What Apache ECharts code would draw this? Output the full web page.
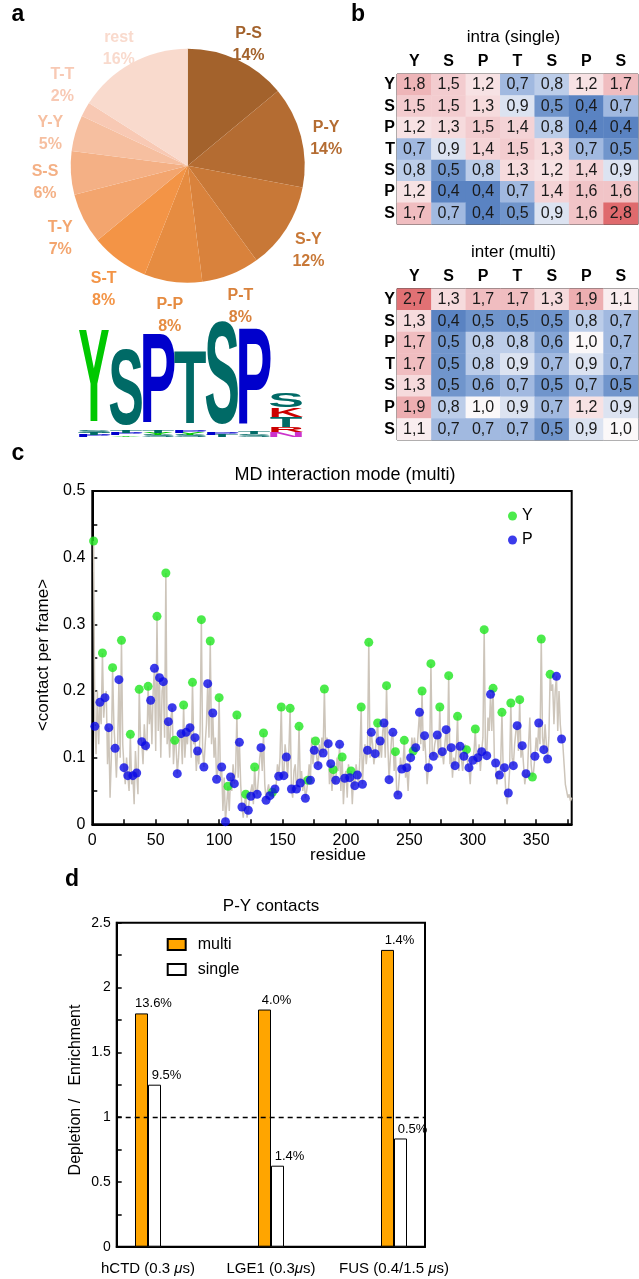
<!DOCTYPE html>
<html><head><meta charset="utf-8">
<script src="https://cdn.jsdelivr.net/npm/echarts@6/dist/echarts.min.js"></script>
<style>html,body{margin:0;padding:0;background:#fff}#c{width:639px;height:1279px}</style>
</head><body><div id="c"></div>
<script>
// ---------------- data ----------------
const pieNames  = ['P-S','P-Y','S-Y','P-T','P-P','S-T','T-Y','S-S','Y-Y','T-T','rest'];
const pieValues = [14,14,12,8,8,8,7,6,5,2,16];
const pieColors = ['#a3622c','#b46c32','#c87837','#d9823c','#e68c41','#f39446','#f3a56e','#f4b085','#f6bfa0','#f8c9b4','#f9dacd'];

// sequence logo: columns, letters from bottom to top with heights in bits
const logoColumns = [
  [['P',0.10],['T',0.08],['S',0.12],['Y',4.01]],
  [['Y',0.06],['P',0.10],['T',0.10],['S',3.29]],
  [['S',0.10],['Y',0.08],['T',0.12],['P',3.91]],
  [['S',0.10],['Y',0.08],['P',0.12],['T',3.20]],
  [['T',0.10],['P',0.10],['S',4.42]],
  [['S',0.12],['T',0.10],['P',4.22]],
  [['N',0.20],['R',0.20],['T',0.45],['K',0.40],['S',0.62]]
];
const logoColorMap = {Y:'#00c800',S:'#006a66',T:'#006a66',P:'#0000cc',K:'#cc0000',R:'#cc0000',N:'#cc33cc'};

const hmLabels = ['Y','S','P','T','S','P','S'];
const intraValues = [
  [1.8,1.5,1.2,0.7,0.8,1.2,1.7],
  [1.5,1.5,1.3,0.9,0.5,0.4,0.7],
  [1.2,1.3,1.5,1.4,0.8,0.4,0.4],
  [0.7,0.9,1.4,1.5,1.3,0.7,0.5],
  [0.8,0.5,0.8,1.3,1.2,1.4,0.9],
  [1.2,0.4,0.4,0.7,1.4,1.6,1.6],
  [1.7,0.7,0.4,0.5,0.9,1.6,2.8]
];
const interValues = [
  [2.7,1.3,1.7,1.7,1.3,1.9,1.1],
  [1.3,0.4,0.5,0.5,0.5,0.8,0.7],
  [1.7,0.5,0.8,0.8,0.6,1.0,0.7],
  [1.7,0.5,0.8,0.9,0.7,0.9,0.7],
  [1.3,0.5,0.6,0.7,0.5,0.7,0.5],
  [1.9,0.8,1.0,0.9,0.7,1.2,0.9],
  [1.1,0.7,0.7,0.7,0.5,0.9,1.0]
];

// contact per frame for residues 1..378
const residueValues = [
0.425,0.147,0.105,0.2,0.12,0.183,0.15,0.257,0.16,0.19,
0.2,0.09,0.145,0.04,0.1,0.235,0.15,0.114,0.07,0.12,
0.217,0.1,0.276,0.12,0.085,0.06,0.1,0.073,0.05,0.135,
0.06,0.073,0.03,0.11,0.077,0.045,0.2025,0.13,0.124,0.09,
0.15,0.118,0.11,0.207,0.15,0.186,0.12,0.2,0.234,0.11,
0.312,0.14,0.22,0.1,0.2,0.214,0.13,0.377,0.12,0.154,
0.1,0.16,0.175,0.09,0.126,0.12,0.076,0.1,0.14,0.136,
0.09,0.179,0.1,0.138,0.12,0.15,0.145,0.1,0.213,0.12,
0.13,0.08,0.11,0.09,0.14,0.307,0.11,0.086,0.12,0.15,
0.211,0.13,0.275,0.12,0.167,0.1,0.13,0.0675,0.08,0.19,
0.07,0.086,0.02,0.07,0.004,0.03,0.057,0.02,0.071,0.05,
0.09,0.061,0.08,0.164,0.07,0.123,0.06,0.026,0.01,0.03,
0.045,0.01,0.021,0.04,0.042,0.06,0.03,0.086,0.05,0.045,
0.07,0.1,0.115,0.08,0.137,0.06,0.036,0.05,0.06,0.043,
0.05,0.048,0.04,0.053,0.06,0.09,0.072,0.1,0.176,0.08,
0.073,0.12,0.101,0.07,0.11,0.174,0.053,0.04,0.08,0.09,
0.053,0.07,0.147,0.062,0.08,0.05,0.07,0.039,0.05,0.066,
0.09,0.066,0.13,0.09,0.111,0.125,0.1,0.088,0.12,0.1,
0.13,0.107,0.203,0.11,0.13,0.121,0.06,0.091,0.05,0.082,
0.06,0.066,0.1,0.08,0.12,0.05,0.101,0.03,0.069,0.08,
0.04,0.09,0.07,0.08,0.03,0.07,0.058,0.09,0.074,0.06,
0.1,0.176,0.06,0.1,0.12,0.09,0.111,0.273,0.1,0.138,
0.12,0.09,0.106,0.13,0.152,0.1,0.125,0.1,0.14,0.152,
0.1,0.208,0.12,0.067,0.1,0.13,0.138,0.08,0.109,0.05,
0.044,0.07,0.1,0.083,0.09,0.126,0.07,0.085,0.05,0.09,
0.1,0.13,0.11,0.13,0.115,0.11,0.14,0.168,0.12,0.2,
0.11,0.133,0.1,0.06,0.085,0.1,0.241,0.11,0.102,0.12,
0.13,0.134,0.1,0.176,0.1,0.109,0.09,0.12,0.142,0.11,
0.223,0.09,0.115,0.07,0.1,0.088,0.11,0.162,0.08,0.117,
0.1,0.08,0.102,0.12,0.112,0.09,0.085,0.06,0.1,0.096,
0.11,0.143,0.09,0.1,0.12,0.08,0.109,0.13,0.292,0.11,
0.103,0.16,0.14,0.195,0.14,0.204,0.1,0.092,0.06,0.08,
0.074,0.09,0.168,0.08,0.085,0.05,0.03,0.047,0.08,0.182,
0.1,0.088,0.12,0.14,0.148,0.11,0.187,0.1,0.118,0.09,
0.06,0.076,0.07,0.12,0.16,0.09,0.071,0.08,0.102,0.13,
0.11,0.152,0.12,0.278,0.13,0.112,0.15,0.12,0.098,0.13,
0.225,0.2,0.21,0.15,0.2,0.222,0.14,0.2,0.15,0.128,
0.12,0.09,0.06,0.05,0.04,0.045,0.035,0.04
];
const yResidues = [1,8,16,23,30,37,44,51,58,65,72,79,86,93,100,107,114,121,128,135,142,149,156,163,170,176,183,190,197,204,212,218,225,232,239,246,253,260,267,274,281,288,295,302,309,316,323,330,337,347,354,361];
const pResidues = [2,6,10,13,18,21,25,28,32,35,39,42,46,49,53,56,60,63,67,70,74,77,81,83,88,91,95,98,102,105,109,112,116,118,123,125,130,133,137,140,144,147,151,153,157,161,164,168,172,175,178,182,186,188,192,195,199,203,207,209,213,217,220,223,227,230,234,237,241,244,248,251,255,258,262,265,269,272,276,279,283,286,290,293,297,300,304,307,311,314,318,321,325,328,332,335,339,342,349,352,356,359,366,370];
const scatterXTicks = [0,50,100,150,200,250,300,350];

const barCategories = ['hCTD (0.3 μs)','LGE1 (0.3μs)','FUS (0.4/1.5 μs)'];
const multiValues  = [1.80,1.83,2.29];
const singleValues = [1.25,0.625,0.835];
const multiLabels  = ['13.6%','4.0%','1.4%'];
const singleLabels = ['9.5%','1.4%','0.5%'];

// ---------------- chart ----------------
const FONT = '"Liberation Sans", Arial, Helvetica, sans-serif';
const chart = echarts.init(document.getElementById('c'), null, {renderer:'canvas'});

function logoGraphics(){
  const els = [];
  const fs = 48, capH = 0.688*fs;
  const inkW = {Y:0.66,S:0.58,P:0.56,T:0.58,K:0.64,R:0.62,N:0.58};
  const base = 437, x0 = 94, dx = 32, pxPerBit = 22.5, colW = 31;
  logoColumns.forEach((col, i) => {
    let yb = base;
    const cx = x0 + i*dx;
    col.forEach(([ch, bits]) => {
      const h = bits*pxPerBit;
      els.push({type:'text', x:cx, y:yb - h/2, scaleX: colW/(inkW[ch]*fs), scaleY: h/capH, silent:true,
        style:{text:ch, fontSize:fs, fontWeight:'bold', fontFamily:FONT, fill:logoColorMap[ch], align:'center', verticalAlign:'middle'}});
      yb -= h;
    });
  });
  return els;
}

function txt(text, x, y, size, opts){
  return Object.assign({type:'text', x:x, y:y, silent:true,
    style:Object.assign({text:text, fontSize:size, fontFamily:FONT, fill:'#000', align:'center', verticalAlign:'middle'}, (opts||{}).style||{})},
    (opts||{}).props||{});
}

const heatData = m => { const d=[]; m.forEach((row,i)=>row.forEach((v,j)=>d.push([j,i,v]))); return d; };

const hmGrid = (top,h) => ({left:397, top:top, width:241, height:h, show:true, borderColor:'#333', borderWidth:1, backgroundColor:'transparent'});
const hmX = gi => ({type:'category', gridIndex:gi, data:hmLabels, position:'top', axisLine:{show:false}, axisTick:{show:false},
  axisLabel:{fontSize:16, fontWeight:'bold', color:'#000', fontFamily:FONT, margin:4}, splitLine:{show:false}});
const hmY = gi => ({type:'category', gridIndex:gi, data:hmLabels, inverse:true, axisLine:{show:false}, axisTick:{show:false},
  axisLabel:{fontSize:16, fontWeight:'bold', color:'#000', fontFamily:FONT, margin:2}, splitLine:{show:false}});
const hmLabel = {show:true, fontSize:16, fontFamily:FONT, color:'#1a1a1a', formatter:p=>p.value[2].toFixed(1).replace('.',',')};

// simple collision avoidance for pie labels: move a label above an earlier one it overlaps
const placedLabels = [];
function pieLabelLayout(p){
  if (p.dataIndex === 0) placedLabels.length = 0;
  const r = {x:p.labelRect.x, y:p.labelRect.y, width:p.labelRect.width, height:p.labelRect.height};
  let dy = 0;
  placedLabels.forEach(q => {
    if (r.x < q.x + q.width && q.x < r.x + r.width && r.y + dy < q.y + q.height && q.y < r.y + dy + r.height) {
      dy = q.y - (r.y + r.height) - 4;
    }
  });
  r.y += dy; placedLabels.push(r);
  return {dy: dy, hideOverlap: false};
}

const option = {
  animation:false,
  backgroundColor:'#fff',
  textStyle:{fontFamily:FONT},
  grid:[hmGrid(74,150.3), hmGrid(288.7,151.3),
        {left:92.3, top:491, width:479.4, height:333.3, show:true, borderColor:'#000', borderWidth:2},
        {left:116.7, top:922.7, width:308.3, height:324, show:true, borderColor:'#000', borderWidth:2}],
  xAxis:[hmX(0), hmX(1),
    {type:'value', gridIndex:2, min:0, max:378, interval:25,
      axisLine:{onZero:false, lineStyle:{color:'#000', width:2}}, axisTick:{inside:true, length:5, lineStyle:{color:'#000', width:1.5}},
      axisLabel:{fontSize:16, color:'#000', margin:8, showMaxLabel:false, formatter:v=>scatterXTicks.includes(v)?String(v):''},
      splitLine:{show:false}},
    {type:'value', gridIndex:3, min:-0.2545, max:2.252,
      axisLine:{onZero:false, lineStyle:{color:'#000', width:2}}, axisTick:{show:false}, splitLine:{show:false},
      axisLabel:{customValues:[0,1,2], fontSize:15, color:'#000', margin:15,
        formatter:v=>{const i=Math.round(v); return barCategories[i].replace('μ','{i|μ}');},
        rich:{i:{fontStyle:'italic', fontSize:15, fontFamily:FONT}}}}
  ],
  yAxis:[hmY(0), hmY(1),
    {type:'value', gridIndex:2, min:0, max:0.5, interval:0.05,
      axisLine:{onZero:false, lineStyle:{color:'#000', width:2}}, axisTick:{inside:true, length:5, lineStyle:{color:'#000', width:1.5}},
      axisLabel:{fontSize:16, color:'#000', margin:7, formatter:v=>{const t=v*10; if(Math.abs(t-Math.round(t))>1e-6) return ''; return Math.round(t)===0?'0':(Math.round(t)/10).toFixed(1);}},
      splitLine:{show:false}},
    {type:'value', gridIndex:3, min:0, max:2.5, interval:0.25,
      axisLine:{onZero:false, lineStyle:{color:'#000', width:2}}, axisTick:{inside:true, length:5, lineStyle:{color:'#000', width:1.5}},
      axisLabel:{fontSize:14, color:'#000', margin:6, formatter:v=>{const t=v*2; if(Math.abs(t-Math.round(t))>1e-6) return ''; return String(Math.round(t)/2);}},
      splitLine:{show:false}}
  ],
  visualMap:[{type:'continuous', show:false, seriesIndex:[2,3], dimension:2, min:0.4, max:2.8,
    inRange:{color:['#5a83c2','#86a6d6','#bccde9','#fbf8f9','#f7e2e4','#f4d3d6','#f1c4c7','#eeb5b8','#eba6a9','#e8979a','#e5888b','#e2797c','#df6a6d']}}],
  legend:[
    {data:['Y','P'], left:508, top:508, orient:'vertical', padding:0, icon:'circle', itemWidth:9, itemHeight:9, itemGap:8,
      textStyle:{fontSize:16, color:'#000', fontFamily:FONT}, selectedMode:false},
    {data:['multi','single'], left:166.7, top:936.5, orient:'vertical', padding:0, icon:'rect', itemWidth:18, itemHeight:11, itemGap:9,
      textStyle:{fontSize:16, color:'#000', fontFamily:FONT, padding:[0,0,0,7]}, selectedMode:false}
  ],
  series:[
    {type:'pie', center:[187.7,165.7], radius:117, startAngle:90, clockwise:true, silent:true, label:{show:false}, labelLine:{show:false},
      data:pieNames.map((n,i)=>({name:n, value:pieValues[i], itemStyle:{color:pieColors[i]}}))},
    {type:'pie', center:[187.7,173.7], radius:[128,152], startAngle:90, clockwise:true, silent:true, labelLine:{show:false},
      label:{show:true, position:'inside', formatter:'{b}\n{c}%', fontSize:16, fontWeight:'bold', lineHeight:22, fontFamily:FONT},
      labelLayout:pieLabelLayout,
      data:pieNames.map((n,i)=>({name:n, value:pieValues[i], itemStyle:{color:'rgba(0,0,0,0)'}, label:{color:pieColors[i]}}))},
    {type:'heatmap', xAxisIndex:0, yAxisIndex:0, data:heatData(intraValues), label:hmLabel, silent:true},
    {type:'heatmap', xAxisIndex:1, yAxisIndex:1, data:heatData(interValues), label:hmLabel, silent:true},
    {type:'line', name:'contacts', xAxisIndex:2, yAxisIndex:2, showSymbol:false, symbol:'none', silent:true, z:1,
      lineStyle:{color:'#cdc5ba', width:1.5}, data:residueValues.map((v,i)=>[i+1,v])},
    {type:'scatter', name:'Y', xAxisIndex:2, yAxisIndex:2, symbolSize:9, itemStyle:{color:'#1ee61e'}, z:3, silent:true,
      data:yResidues.map(r=>[r, residueValues[r-1]])},
    {type:'scatter', name:'P', xAxisIndex:2, yAxisIndex:2, symbolSize:9, itemStyle:{color:'#0a0ae6'}, z:3, silent:true,
      data:pResidues.map(r=>[r, residueValues[r-1]])},
    {type:'bar', name:'multi', xAxisIndex:3, yAxisIndex:3, barWidth:13, barGap:'0%', silent:true,
      itemStyle:{color:'#ffa500', borderColor:'#000', borderWidth:1},
      label:{show:true, position:'top', distance:3, offset:[12,0], fontSize:13, color:'#000', formatter:p=>multiLabels[p.dataIndex]},
      data:multiValues.map((v,i)=>[i,v]),
      markLine:{silent:true, symbol:['none','none'], label:{show:false}, lineStyle:{color:'#000', type:[5,4], width:1.3}, data:[{yAxis:1}]}},
    {type:'bar', name:'single', xAxisIndex:3, yAxisIndex:3, barWidth:13, barGap:'0%', silent:true,
      itemStyle:{color:'#fff', borderColor:'#000', borderWidth:1},
      label:{show:true, position:'top', distance:3, offset:[12,0], fontSize:13, color:'#000', formatter:p=>singleLabels[p.dataIndex]},
      data:singleValues.map((v,i)=>[i,v])}
  ],
  graphic:[].concat([
    txt('a', 18, 15, 23, {style:{fontWeight:'bold'}}),
    txt('b', 358, 15, 23, {style:{fontWeight:'bold'}}),
    txt('c', 18, 454, 23, {style:{fontWeight:'bold'}}),
    txt('d', 72, 880, 23, {style:{fontWeight:'bold'}}),
    txt('intra (single)', 513.5, 37.5, 17),
    txt('inter (multi)', 513.5, 252.5, 17),
    txt('MD interaction mode (multi)', 345, 475, 18),
    txt('residue', 338, 855, 17),
    txt('<contact per frame>', 43, 655, 17, {props:{rotation:Math.PI/2}}),
    txt('P-Y contacts', 271, 906, 17),
    txt('Depletion /   Enrichment', 76, 1090, 16, {props:{rotation:Math.PI/2}})
  ], logoGraphics())
};
chart.setOption(option);
</script></body></html>
